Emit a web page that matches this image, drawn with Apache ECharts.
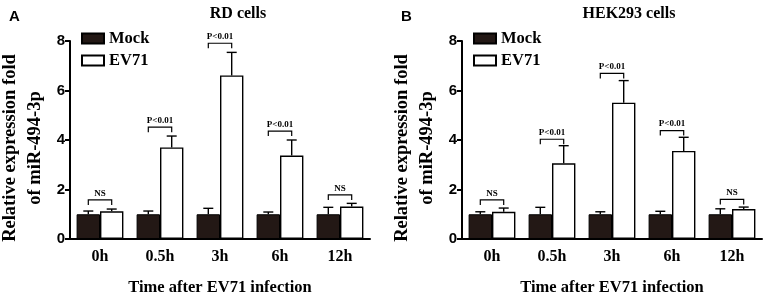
<!DOCTYPE html>
<html>
<head>
<meta charset="utf-8">
<script src="https://cdn.jsdelivr.net/npm/echarts@6/dist/echarts.min.js"></script>
<style>
  html, body { margin: 0; padding: 0; background: #fff; }
  #chart { width: 765px; height: 301px; }
</style>
</head>
<body>
<div id="chart"></div>
<script>
// categories and values
var categories = ['0h', '0.5h', '3h', '6h', '12h'];
var sigLabels = ['NS', 'P<0.01', 'P<0.01', 'P<0.01', 'NS'];

// panel A - RD cells
var mockA = [1, 1, 1, 1, 1];
var mockSdA = [0.13, 0.13, 0.24, 0.09, 0.28];
var ev71A = [1.12, 3.7, 6.61, 3.37, 1.31];
var ev71SdA = [0.09, 0.46, 0.93, 0.63, 0.13];
var bracketA = [1.58, 4.52, 7.91, 4.36, 1.78];

// panel B - HEK293 cells
var mockB = [1, 1, 1, 1, 1];
var mockSdB = [0.1, 0.28, 0.1, 0.12, 0.22];
var ev71B = [1.1, 3.06, 5.51, 3.56, 1.21];
var ev71SdB = [0.15, 0.71, 0.89, 0.55, 0.08];
var bracketB = [1.58, 4.03, 6.69, 4.38, 1.6];

var serif = 'Liberation Serif';
var sans = 'Liberation Sans';
var barRatio = 0.39; // bar width as part of the category band

var myChart = echarts.init(document.getElementById('chart'));

function errRender(params, api) {
    var ci = api.value(0), top = api.value(1), mean = api.value(2), side = api.value(3);
    var bw = api.size([1, 0])[0] * barRatio;
    var c = api.coord([ci, mean]);
    var t = api.coord([ci, top]);
    var x = c[0] + (side ? bw / 2 : -bw / 2);
    var st = { stroke: '#000', lineWidth: 1.4 };
    return {
        type: 'group',
        children: [
            { type: 'line', shape: { x1: x, y1: c[1], x2: x, y2: t[1] }, style: st },
            { type: 'line', shape: { x1: x - 5, y1: t[1], x2: x + 5, y2: t[1] }, style: st }
        ]
    };
}

function bracketRender(params, api) {
    var ci = api.value(0), y = api.value(1);
    var bw = api.size([1, 0])[0] * barRatio;
    var c = api.coord([ci, y]);
    var xl = c[0] - bw / 2, xr = c[0] + bw / 2;
    return {
        type: 'group',
        children: [
            {
                type: 'polyline',
                shape: { points: [[xl, c[1] + 5], [xl, c[1]], [xr, c[1]], [xr, c[1] + 5]] },
                style: { stroke: '#000', lineWidth: 1.2, fill: null }
            },
            {
                type: 'text',
                x: c[0], y: c[1] - 2,
                style: {
                    text: sigLabels[params.dataIndex],
                    align: 'center', verticalAlign: 'bottom',
                    font: 'bold 9px "' + serif + '"', fill: '#000'
                }
            }
        ]
    };
}

function panelSeries(idx, mock, mockSd, ev71, ev71Sd, bracket) {
    var errData = [];
    mock.forEach(function (v, i) { errData.push([i, v + mockSd[i], v, 0]); });
    ev71.forEach(function (v, i) { errData.push([i, v + ev71Sd[i], v, 1]); });
    return [
        {
            name: 'Mock', type: 'bar', xAxisIndex: idx, yAxisIndex: idx,
            data: mock, barWidth: (barRatio * 100) + '%', barGap: '0%',
            itemStyle: { color: '#231815', borderColor: '#000', borderWidth: 1 }
        },
        {
            name: 'EV71', type: 'bar', xAxisIndex: idx, yAxisIndex: idx,
            data: ev71, barWidth: (barRatio * 100) + '%', barGap: '0%',
            itemStyle: { color: '#fff', borderColor: '#000', borderWidth: 1.4 }
        },
        {
            type: 'custom', xAxisIndex: idx, yAxisIndex: idx, z: 5,
            renderItem: errRender, data: errData, silent: true
        },
        {
            type: 'custom', xAxisIndex: idx, yAxisIndex: idx, z: 5,
            renderItem: bracketRender,
            data: bracket.map(function (v, i) { return [i, v]; }), silent: true
        }
    ];
}

function xAxisOf(idx) {
    return {
        type: 'category', gridIndex: idx, data: categories,
        name: 'Time after EV71 infection', nameLocation: 'middle', nameGap: 40,
        nameTextStyle: { fontFamily: serif, fontWeight: 'bold', fontSize: 16.5, color: '#000' },
        axisLine: { lineStyle: { color: '#000', width: 2 } },
        axisTick: { alignWithLabel: true, length: 5, lineStyle: { color: '#000', width: 2 } },
        axisLabel: { fontFamily: serif, fontWeight: 'bold', fontSize: 16, color: '#000', margin: 10 }
    };
}

function yAxisOf(idx) {
    return {
        type: 'value', gridIndex: idx, min: 0, max: 8, interval: 2,
        name: 'Relative expression fold\nof miR-494-3p', nameLocation: 'middle', nameGap: 22,
        // right padding pushes the rotated name a little down, as in the figure
        nameTextStyle: { fontFamily: serif, fontWeight: 'bold', fontSize: 18.5, color: '#000', lineHeight: 25, padding: [0, 16, 0, 0] },
        axisLine: { show: true, lineStyle: { color: '#000', width: 2 } },
        axisTick: { show: true, length: 5, lineStyle: { color: '#000', width: 2 } },
        splitLine: { show: false },
        axisLabel: { fontFamily: sans, fontWeight: 'bold', fontSize: 15, color: '#000', margin: 5 }
    };
}

function legendOf(left) {
    return {
        orient: 'vertical', left: left, top: 25, itemWidth: 22, itemHeight: 10, itemGap: 5,
        selectedMode: false, icon: 'rect',
        textStyle: { fontFamily: serif, fontWeight: 'bold', fontSize: 16.5, color: '#000' },
        data: ['Mock', 'EV71']
    };
}

var option = {
    animation: false,
    title: [
        { text: 'A', left: 4, top: 4, textStyle: { fontFamily: sans, fontWeight: 'bold', fontSize: 15, color: '#000' } },
        { text: 'B', left: 396, top: 4, textStyle: { fontFamily: sans, fontWeight: 'bold', fontSize: 15, color: '#000' } },
        { text: 'RD cells', left: 233, top: 1, textAlign: 'center', textStyle: { fontFamily: serif, fontWeight: 'bold', fontSize: 16, color: '#000' } },
        { text: 'HEK293 cells', left: 624, top: 1, textAlign: 'center', textStyle: { fontFamily: serif, fontWeight: 'bold', fontSize: 16, color: '#000' } }
    ],
    legend: [legendOf(76), legendOf(468)],
    grid: [
        { left: 70, right: 395, top: 41, bottom: 62, outerBoundsMode: 'none' },
        { left: 462, right: 3, top: 41, bottom: 62, outerBoundsMode: 'none' }
    ],
    xAxis: [xAxisOf(0), xAxisOf(1)],
    yAxis: [yAxisOf(0), yAxisOf(1)],
    series: panelSeries(0, mockA, mockSdA, ev71A, ev71SdA, bracketA)
        .concat(panelSeries(1, mockB, mockSdB, ev71B, ev71SdB, bracketB))
};

myChart.setOption(option);
</script>
</body>
</html>
